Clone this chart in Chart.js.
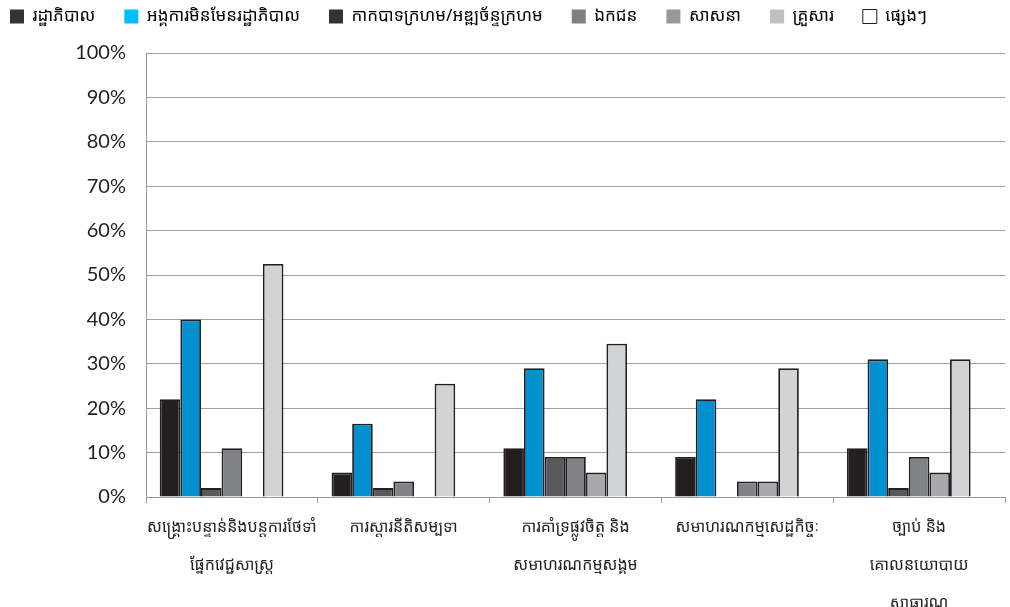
<!DOCTYPE html>
<html lang="km">
<head>
    <meta charset="UTF-8">
    <title>Chart</title>
    <style>
        html, body { margin: 0; padding: 0; background: #fff; }
        .chart-container { position: relative; width: 1010px; height: 607px; }
    </style>
</head>
<body>
    <div class="chart-container">
        <canvas id="mainChart"></canvas>
    </div>

    <script src="https://cdn.jsdelivr.net/npm/chart.js"></script>
    <script>
        // categories (x axis, split into lines as in the original)
        const categories = [
            ['សង្គ្រោះបន្ទាន់និងបន្តការថែទាំ', 'ផ្នែកវេជ្ជសាស្ត្រ'],
            ['ការស្តារនីតិសម្បទា'],
            ['ការគាំទ្រផ្លូវចិត្ត និង', 'សមាហរណកម្មសង្គម'],
            ['សមាហរណកម្មសេដ្ឋកិច្ចៈ'],
            ['ច្បាប់ និង', 'គោលនយោបាយ', 'សាធារណ']
        ];

        const seriesNames = ['រដ្ឋាភិបាល', 'អង្គការមិនមែនរដ្ឋាភិបាល', 'កាកបាទក្រហម/អឌ្ឍច័ន្ទក្រហម', 'ឯកជន', 'សាសនា', 'គ្រួសារ', 'ផ្សេងៗ'];

        // percent per category, one array per series
        const government = [22, 5.5, 11, 9, 11];
        const ngo        = [40, 16.5, 29, 22, 31];
        const redCross   = [2, 2, 9, 0, 2];
        const privateSec = [11, 3.5, 9, 3.5, 9];
        const religious  = [0, 0, 5.5, 3.5, 5.5];
        const family     = [52.5, 25.5, 34.5, 29, 31];
        const other      = [0, 0, 0, 0, 0];

        const yTicks = [0, 10, 20, 30, 40, 50, 60, 70, 80, 90, 100];

        const barColors = ['#231f20', '#0090cf', '#58595b', '#808285', '#a7a9ac', '#d1d3d4', '#ffffff'];
        const legendColors = ['#333333', '#00bfff', '#333333', '#808080', '#999999', '#c0c0c0', '#ffffff'];

        const khmerFont = '"Noto Sans Khmer", "Khmer OS", "Noto Sans", sans-serif';

        const allSeries = [government, ngo, redCross, privateSec, religious, family, other];

        const datasets = allSeries.map((vals, i) => ({
            label: seriesNames[i],
            data: vals,
            backgroundColor: barColors[i],
            borderColor: '#231f20',
            borderWidth: 1.8,
            borderSkipped: 'bottom'
        }));

        const legendPad = 29;

        // fixed legend height; draw the row without wrapping, shifted up/left like the original
        const legendPlace = {
            id: 'legendPlace',
            afterInit(chart) {
                const legend = chart.legend;
                const fit = legend.fit;
                const draw = legend.draw;
                legend.fit = function () {
                    fit.call(this);
                    this.height = 53;
                };
                legend.draw = function () {
                    const ctx = this.ctx;
                    const right = this.right;
                    this.right = 2000;
                    ctx.save();
                    ctx.translate(10 - legendPad, -21);
                    draw.call(this);
                    ctx.restore();
                    this.right = right;
                };
            }
        };

        new Chart(document.getElementById('mainChart').getContext('2d'), {
            type: 'bar',
            data: { labels: categories, datasets: datasets },
            plugins: [legendPlace],
            options: {
                responsive: true,
                maintainAspectRatio: false,
                animation: false,
                layout: { padding: { top: 0, right: 5, bottom: 0, left: 0 } },
                datasets: {
                    bar: { categoryPercentage: 0.84, barPercentage: 1.0 }
                },
                plugins: {
                    legend: {
                        position: 'top',
                        align: 'start',
                        labels: {
                            boxWidth: 14,
                            boxHeight: 14,
                            padding: legendPad,
                            color: '#231f20',
                            font: { family: khmerFont, size: 17 },
                            generateLabels: chart => seriesNames.map((name, i) => ({
                                text: name,
                                fillStyle: legendColors[i],
                                strokeStyle: i === 6 ? '#231f20' : legendColors[i],
                                lineWidth: i === 6 ? 1 : 0,
                                datasetIndex: i,
                                hidden: false
                            }))
                        }
                    },
                    tooltip: { enabled: false }
                },
                scales: {
                    x: {
                        grid: {
                            display: true,
                            drawOnChartArea: false,
                            drawTicks: true,
                            tickLength: 6,
                            color: '#999999',
                            offset: true
                        },
                        border: { display: true, color: '#999999', width: 1 },
                        ticks: {
                            maxRotation: 0,
                            autoSkip: false,
                            padding: 6,
                            color: '#231f20',
                            font: { family: khmerFont, size: 16, lineHeight: 2.35 }
                        },
                        afterFit: scale => { scale.height = 110; }
                    },
                    y: {
                        min: 0,
                        max: 100,
                        afterBuildTicks: scale => { scale.ticks = yTicks.map(v => ({ value: v })); },
                        grid: {
                            color: '#a0a0a0',
                            lineWidth: 1,
                            drawTicks: false
                        },
                        border: { display: true, color: '#999999', width: 1 },
                        ticks: {
                            padding: 20,
                            color: '#231f20',
                            font: { family: 'Lato, sans-serif', size: 20 },
                            callback: v => v + '%'
                        },
                        afterFit: scale => { scale.width = 146; }
                    }
                }
            }
        });
    </script>
</body>
</html>
